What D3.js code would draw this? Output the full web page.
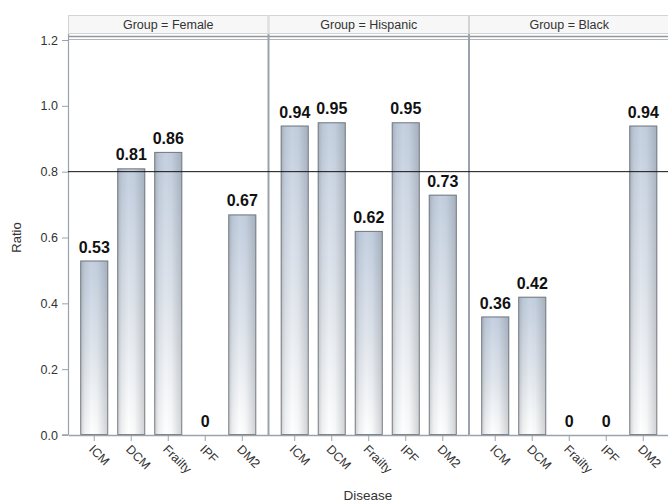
<!DOCTYPE html>
<html>
<head>
<meta charset="utf-8">
<script src="https://cdn.jsdelivr.net/npm/d3@7"></script>
<style>
  html, body { margin: 0; padding: 0; background: #fff; }
  svg { display: block; font-family: "Liberation Sans", Arial, sans-serif; }
</style>
</head>
<body>
<svg id="chart" width="668" height="502"></svg>
<script>
// Ratio by disease, paneled by group
const groups = ["Female", "Hispanic", "Black"];
const diseases = ["ICM", "DCM", "Frailty", "IPF", "DM2"];
const femaleRatio = [0.53, 0.81, 0.86, 0, 0.67];
const hispanicRatio = [0.94, 0.95, 0.62, 0.95, 0.73];
const blackRatio = [0.36, 0.42, 0, 0, 0.94];
const yTicks = [0, 0.2, 0.4, 0.6, 0.8, 1.0, 1.2];
const refValue = 0.8;

const seriesByGroup = [femaleRatio, hispanicRatio, blackRatio];

const svg = d3.select("#chart");
const plotL = 68, plotR = 669.5, plotT = 40, plotB = 435;
const panelW = (plotR - plotL) / groups.length;

const y = d3.scaleLinear().domain([0, 1.2]).range([plotB, plotT]);
const panelX = d3.scaleBand().domain(groups).range([plotL, plotR]).padding(0);
const x = d3.scaleBand().domain(diseases).range([0, panelW])
  .paddingInner(0.243).paddingOuter(0.33);

// Bar fills: vertical tint plus horizontal shading
const defs = svg.append("defs");
const vg = defs.append("linearGradient").attr("id", "vfill")
  .attr("x1", 0).attr("y1", 0).attr("x2", 0).attr("y2", 1);
vg.append("stop").attr("offset", "0%").attr("stop-color", "#c4d0e0");
vg.append("stop").attr("offset", "55%").attr("stop-color", "#e2e7ee");
vg.append("stop").attr("offset", "100%").attr("stop-color", "#ffffff");
const hg = defs.append("linearGradient").attr("id", "hshade")
  .attr("x1", 0).attr("y1", 0).attr("x2", 1).attr("y2", 0);
[["0%", 0.24], ["15%", 0.08], ["40%", 0.0], ["62%", 0.03], ["100%", 0.24]].forEach(([o, a]) => {
  hg.append("stop").attr("offset", o).attr("stop-color", "#3c444c").attr("stop-opacity", a);
});

const axisColor = "#9aa3ab";

// Panel headers
groups.forEach(g => {
  svg.append("rect")
    .attr("x", panelX(g) + 0.5).attr("y", 15.5)
    .attr("width", panelW - 1).attr("height", 18)
    .attr("fill", "#f7f7f7").attr("stroke", "#d4d4d4");
  svg.append("text")
    .attr("x", panelX(g) + panelW / 2).attr("y", 29)
    .attr("text-anchor", "middle").attr("font-size", 12.5).attr("fill", "#333")
    .text("Group = " + g);
});

// Top double rule
svg.append("line").attr("x1", plotL).attr("x2", plotR).attr("y1", 36.5).attr("y2", 36.5)
  .attr("stroke", "#8f969c").attr("stroke-width", 1.5);
svg.append("line").attr("x1", plotL).attr("x2", plotR).attr("y1", 39.5).attr("y2", 39.5)
  .attr("stroke", "#b0b6bb").attr("stroke-width", 1);

// Panel separators and left frame
groups.forEach((g, i) => {
  svg.append("line")
    .attr("x1", panelX(g) + (i === 0 ? 0.5 : 0)).attr("x2", panelX(g) + (i === 0 ? 0.5 : 0))
    .attr("y1", 34).attr("y2", plotB)
    .attr("stroke", axisColor).attr("stroke-width", i === 0 ? 1.2 : 2);
});

// Y axis
const yAxis = d3.axisLeft(y).tickValues(yTicks).tickFormat(d3.format(".1f")).tickSize(6).tickPadding(4);
const ya = svg.append("g").attr("transform", `translate(${plotL},0)`).call(yAxis);
ya.select(".domain").remove();
ya.selectAll(".tick line").attr("stroke", axisColor);
ya.selectAll(".tick text").attr("font-size", 12.5).attr("fill", "#333")
  .attr("font-family", "Liberation Sans, Arial, sans-serif");

// Panels: bars, labels, x axes
groups.forEach((g, gi) => {
  const vals = seriesByGroup[gi];
  const p = svg.append("g").attr("transform", `translate(${panelX(g)},0)`);
  const data = diseases.map((d, i) => ({ d, v: vals[i] }));

  const bars = p.selectAll("g.bar").data(data.filter(e => e.v > 0)).join("g").attr("class", "bar");
  bars.append("rect")
    .attr("x", e => x(e.d)).attr("y", e => y(e.v))
    .attr("width", x.bandwidth()).attr("height", e => y(0) - y(e.v))
    .attr("fill", "url(#vfill)");
  bars.append("rect")
    .attr("x", e => x(e.d) + 0.5).attr("y", e => y(e.v) + 0.5)
    .attr("width", x.bandwidth() - 1).attr("height", e => y(0) - y(e.v) - 1)
    .attr("fill", "url(#hshade)").attr("stroke", "#767b80").attr("stroke-width", 1);

  p.selectAll("text.val").data(data).join("text").attr("class", "val")
    .attr("x", e => x(e.d) + x.bandwidth() / 2)
    .attr("y", e => y(e.v) - 8)
    .attr("text-anchor", "middle").attr("font-size", 16).attr("font-weight", "bold").attr("fill", "#111")
    .text(e => e.v === 0 ? "0" : d3.format(".2f")(e.v));

  const xAxis = d3.axisBottom(x).tickSize(6).tickSizeOuter(0);
  const xa = p.append("g").attr("transform", `translate(0,${plotB})`).call(xAxis);
  xa.select(".domain").attr("stroke", axisColor).attr("stroke-width", 1.5);
  xa.selectAll(".tick line").attr("stroke", axisColor);
  xa.selectAll(".tick text")
    .attr("font-size", 12.5).attr("fill", "#333")
    .attr("font-family", "Liberation Sans, Arial, sans-serif")
    .attr("text-anchor", "start").attr("dy", null).attr("y", null)
    .attr("transform", "translate(-6,15) rotate(45)");
});

// Axis line extension to the left of the first panel
svg.append("line").attr("x1", plotL - 6).attr("x2", plotL).attr("y1", plotB).attr("y2", plotB)
  .attr("stroke", axisColor).attr("stroke-width", 1.5);

// Reference line
svg.append("line")
  .attr("x1", plotL).attr("x2", plotR).attr("y1", y(refValue)).attr("y2", y(refValue))
  .attr("stroke", "#111").attr("stroke-width", 1);

// Axis titles
svg.append("text").attr("transform", `translate(21,${(plotT + plotB) / 2}) rotate(-90)`)
  .attr("text-anchor", "middle").attr("font-size", 13).attr("fill", "#333").text("Ratio");
svg.append("text").attr("x", (plotL + 668) / 2).attr("y", 500)
  .attr("text-anchor", "middle").attr("font-size", 13.5).attr("fill", "#333").text("Disease");
</script>
</body>
</html>
